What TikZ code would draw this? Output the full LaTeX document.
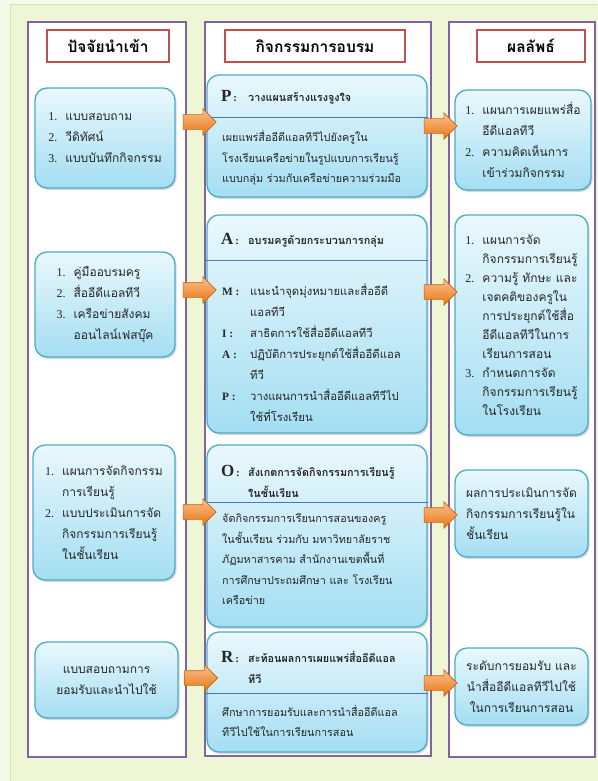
\documentclass[tikz,border=0pt]{standalone}
\usepackage{fontspec}
\setmainfont{Liberation Serif}
\newfontfamily\thaifont[Script=Thai]{Loma}
\usepackage{tikz}
\usetikzlibrary{shapes.arrows,shadows,positioning,calc}

\definecolor{bggreen}{HTML}{EEF6D6}
\definecolor{bgedge}{HTML}{D3E5AE}
\definecolor{colpurple}{HTML}{8064A2}
\definecolor{headred}{HTML}{C0504D}
\definecolor{boxedge}{HTML}{4BACC6}
\definecolor{boxtop}{HTML}{EAF8FD}
\definecolor{boxbot}{HTML}{A3DEF2}
\definecolor{divblue}{HTML}{3E7CB1}
\definecolor{arrtop}{HTML}{FBC393}
\definecolor{arrbot}{HTML}{E8740F}
\definecolor{txt}{HTML}{262626}

\newcommand{\numlbl}[1]{\makebox[17pt][l]{\normalfont #1}}
\newcommand{\ind}{\hspace*{17pt}}
\newcommand{\keylbl}[1]{\makebox[28pt][l]{\normalfont\bfseries #1}}
\newcommand{\kind}{\hspace*{28pt}}
\newcommand{\bigkey}[1]{{\normalfont\bfseries\fontsize{17}{17}\selectfont #1}}
\newcommand{\titlekey}[1]{\makebox[27pt][l]{\bigkey{#1}\,{\normalfont\bfseries :}}}
\newcommand{\tind}{\hspace*{27pt}}

\tikzset{
	column/.style={draw=colpurple, line width=1.4pt, fill=white, inner sep=0pt},
	headbox/.style={draw=headred, line width=1.4pt, fill=white, inner sep=0pt,
		minimum height=32pt, font=\thaifont\bfseries\fontsize{15.5}{17}\selectfont},
	bluebox/.style={draw=boxedge, line width=1.3pt, rounded corners=12pt,
		top color=boxtop, bottom color=boxbot, inner sep=0pt, align=left,
		drop shadow={opacity=0.3, shadow xshift=1.5pt, shadow yshift=-2pt},
		font=\thaifont\fontsize{12}{21}\selectfont, text=txt},
	bodytext/.style={inner sep=0pt, align=left, anchor=west, text=txt,
		font=\thaifont\fontsize{10.8}{20.5}\selectfont},
	titletext/.style={inner sep=0pt, align=left, anchor=west, text=txt,
		font=\thaifont\bfseries\fontsize{10.8}{21}\selectfont},
	divider/.style={draw=divblue, line width=1pt},
	blockarrow/.style={single arrow, draw=arrbot!85!black, line width=0.6pt,
		top color=arrtop, bottom color=arrbot, minimum height=33pt,
		minimum width=26pt, single arrow head extend=6pt, inner xsep=0pt, inner ysep=7pt}
}

\begin{document}
\begin{tikzpicture}[x=1pt, y=-1pt]
	\useasboundingbox (0,0) rectangle (597,781);
	\fill[bggreen!55!white] (0,0) rectangle (597,781);
	\draw[bgedge, fill=bggreen, line width=1pt] (10,5) rectangle (610,795);

	% three columns
	\node[column, minimum width=158pt, minimum height=735pt] (colIn) at (107,389.5) {};
	\node[column, minimum width=226pt, minimum height=734pt] (colAct) at (318,389) {};
	\node[column, minimum width=146pt, minimum height=735pt] (colOut) at (522,389.5) {};

	\node[headbox, minimum width=122pt] (hIn) at (108,46) {ปัจจัยนำเข้า};
	\node[headbox, minimum width=180pt] (hAct) at (315,46) {กิจกรรมการอบรม};
	\node[headbox, minimum width=108pt] (hOut) at (531,46) {ผลลัพธ์};

	% inputs
	\node[bluebox, minimum width=140pt, minimum height=100pt] (in1) at (105,138)
		{\numlbl{1.}แบบสอบถาม\\ \numlbl{2.}วีดิทัศน์\\ \numlbl{3.}แบบบันทึกกิจกรรม};
	\node[bluebox, minimum width=140pt, minimum height=105pt] (in2) at (105,304.5)
		{\numlbl{1.}คู่มืออบรมครู\\ \numlbl{2.}สื่ออีดีแอลทีวี\\ \numlbl{3.}เครือข่ายสังคม\\ \ind ออนไลน์เฟสบุ๊ค};
	\node[bluebox, minimum width=142pt, minimum height=135pt] (in3) at (104,512.5)
		{\numlbl{1.}แผนการจัดกิจกรรม\\ \ind การเรียนรู้\\ \numlbl{2.}แบบประเมินการจัด\\ \ind กิจกรรมการเรียนรู้\\ \ind ในชั้นเรียน};
	\node[bluebox, align=center, minimum width=143pt, minimum height=76pt] (in4) at (106.5,680)
		{แบบสอบถามการ\\ ยอมรับและนำไปใช้};

	% activities
	\node[bluebox, minimum width=220pt, minimum height=122pt] (act1) at (317,136) {};
	\draw[divider] (act1.west |- 0,118) -- (act1.east |- 0,118);
	\node[titletext] (act1t) at (221,97) {\titlekey{P}วางแผนสร้างแรงจูงใจ};
	\node[bodytext] (act1b) at (222,158)
		{เผยแพร่สื่ออีดีแอลทีวีไปยังครูใน\\ โรงเรียนเครือข่ายในรูปแบบการเรียนรู้\\ แบบกลุ่ม ร่วมกับเครือข่ายความร่วมมือ};

	\node[bluebox, minimum width=220pt, minimum height=218pt] (act2) at (317,324) {};
	\draw[divider] (act2.west |- 0,260) -- (act2.east |- 0,260);
	\node[titletext] (act2t) at (221,240) {\titlekey{A}อบรมครูด้วยกระบวนการกลุ่ม};
	\node[bodytext, font=\thaifont\fontsize{11.3}{21}\selectfont] (act2b) at (222,353)
		{\keylbl{M :}แนะนำจุดมุ่งหมายและสื่ออีดี\\ \kind แอลทีวี\\ \keylbl{I :}สาธิตการใช้สื่ออีดีแอลทีวี\\
		\keylbl{A :}ปฏิบัติการประยุกต์ใช้สื่ออีดีแอล\\ \kind ทีวี\\ \keylbl{P :}วางแผนการนำสื่ออีดีแอลทีวีไป\\ \kind ใช้ที่โรงเรียน};

	\node[bluebox, minimum width=220pt, minimum height=182pt] (act3) at (317,536) {};
	\draw[divider] (act3.west |- 0,502) -- (act3.east |- 0,502);
	\node[titletext] (act3t) at (221,481) {\titlekey{O}สังเกตการจัดกิจกรรมการเรียนรู้\\ \tind ในชั้นเรียน};
	\node[bodytext] (act3b) at (222,559)
		{จัดกิจกรรมการเรียนการสอนของครู\\ ในชั้นเรียน ร่วมกับ มหาวิทยาลัยราช\\ ภัฏมหาสารคาม สำนักงานเขตพื้นที่\\ การศึกษาประถมศึกษา และ โรงเรียน\\ เครือข่าย};

	\node[bluebox, minimum width=220pt, minimum height=120pt] (act4) at (317,692) {};
	\draw[divider] (act4.west |- 0,693) -- (act4.east |- 0,693);
	\node[titletext] (act4t) at (221,667) {\titlekey{R}สะท้อนผลการเผยแพร่สื่ออีดีแอล\\ \tind ทีวี};
	\node[bodytext] (act4b) at (222,721)
		{ศึกษาการยอมรับและการนำสื่ออีดีแอล\\ ทีวีไปใช้ในการเรียนการสอน};

	% outputs
	\node[bluebox, minimum width=136pt, minimum height=100pt] (out1) at (523,140)
		{\numlbl{1.}แผนการเผยแพร่สื่อ\\ \ind อีดีแอลทีวี\\ \numlbl{2.}ความคิดเห็นการ\\ \ind เข้าร่วมกิจกรรม};
	\node[bluebox, minimum width=133pt, minimum height=220pt,
		font=\thaifont\fontsize{12}{19}\selectfont] (out2) at (521.5,325)
		{\numlbl{1.}แผนการจัด\\ \ind กิจกรรมการเรียนรู้\\ \numlbl{2.}ความรู้ ทักษะ และ\\ \ind เจตคติของครูใน\\ \ind การประยุกต์ใช้สื่อ\\
		\ind อีดีแอลทีวีในการ\\ \ind เรียนการสอน\\ \numlbl{3.}กำหนดการจัด\\ \ind กิจกรรมการเรียนรู้\\ \ind ในโรงเรียน};
	\node[bluebox, minimum width=133pt, minimum height=87pt] (out3) at (521.5,513.5)
		{ผลการประเมินการจัด\\ กิจกรรมการเรียนรู้ใน\\ ชั้นเรียน};
	\node[bluebox, align=center, minimum width=133pt, minimum height=77pt] (out4) at (521.5,686.5)
		{ระดับการยอมรับ และ\\ นำสื่ออีดีแอลทีวีไปใช้\\ ในการเรียนการสอน};

	% arrows
	\coordinate (r1) at (0,122);
	\coordinate (r2) at (0,290);
	\coordinate (r3) at (0,512);
	\coordinate (r4) at (0,678);
	\coordinate (s1) at (0,126);
	\coordinate (s2) at (0,292);
	\coordinate (s3) at (0,515);
	\coordinate (s4) at (0,683);
	\foreach \i in {1,...,4}{
		\node[blockarrow, xshift=5pt] (ia\i) at ($(in\i.east |- r\i)!0.5!(act\i.west |- r\i)$) {};
		\node[blockarrow, xshift=-4pt] (oa\i) at ($(act\i.east |- s\i)!0.5!(out\i.west |- s\i)$) {};
	}
\end{tikzpicture}
\end{document}
